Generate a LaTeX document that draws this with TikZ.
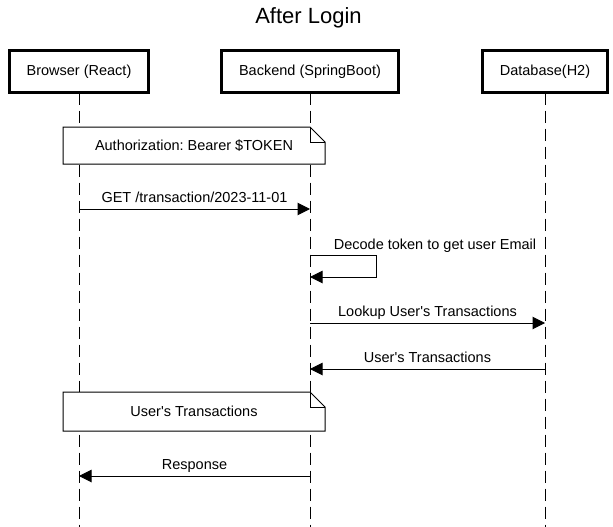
\documentclass[tikz,border=0pt]{standalone}
\usepackage{fontspec}
\setmainfont{Liberation Sans}
\usetikzlibrary{positioning, calc, arrows.meta}
\frenchspacing

\begin{document}
\begin{tikzpicture}[x=1pt, y=-1pt, line width=1pt]
% Block styles
\tikzstyle{actor}=[inner sep=0pt, outer sep=0pt, draw=black, line width=2.8pt, fill=white, align=center, minimum height=42pt, font=\fontsize{14.5}{17}\selectfont]
\tikzstyle{notebox}=[inner sep=0pt, outer sep=0pt, align=center, minimum width=262pt, font=\fontsize{14.5}{17}\selectfont]
\tikzstyle{note}=[draw=black, fill=white, line width=1pt]
\tikzstyle{life}=[dash pattern=on 12pt off 6pt, line width=1pt]
\tikzstyle{msg}=[-{Triangle[length=12.5pt, width=12.5pt]}, line width=1pt]
\tikzstyle{lbl}=[anchor=base, inner sep=0pt, font=\fontsize{14.5}{17}\selectfont]
\useasboundingbox (0,0) rectangle (613,527);
% Title
\node[anchor=base, inner sep=0pt, font=\fontsize{22}{26}\selectfont] (title) at (308.5,24) {After Login};
% Participants
\node[actor, minimum width=139pt] (browser) at (79,71.5) {Browser (React)};
\node[actor, minimum width=177pt] (backend) at (310,71.5) {Backend (SpringBoot)};
\node[actor, minimum width=125pt] (db) at (545,71.5) {Database(H2)};
% Lifelines
\coordinate (bottom) at (0,527);
\draw[life] (browser.south) -- (browser.south |- bottom);
\draw[life] (backend.south) -- (backend.south |- bottom);
\draw[life] (db.south) -- (db.south |- bottom);
% Notes
\node[notebox, minimum height=37pt] (auth) at (194,145.5) {};
\draw[note] (auth.north west) -- ([xshift=-15pt]auth.north east) -- ([yshift=-15pt]auth.north east) -- (auth.south east) -- (auth.south west) -- cycle;
\draw ([xshift=-15pt]auth.north east) -- ([xshift=-15pt, yshift=-15pt]auth.north east) -- ([yshift=-15pt]auth.north east);
\node[notebox] at (auth.center) {Authorization: Bearer \$TOKEN};
\node[notebox, minimum height=39pt] (trans) at (194,411.5) {};
\draw[note] (trans.north west) -- ([xshift=-15pt]trans.north east) -- ([yshift=-15pt]trans.north east) -- (trans.south east) -- (trans.south west) -- cycle;
\draw ([xshift=-15pt]trans.north east) -- ([xshift=-15pt, yshift=-15pt]trans.north east) -- ([yshift=-15pt]trans.north east);
\node[notebox] at (trans.center) {User\textquotesingle s Transactions};
% Messages
\coordinate (y1) at (0,209);
\coordinate (y2) at (0,255);
\coordinate (y3) at (0,277);
\coordinate (y4) at (0,323);
\coordinate (y5) at (0,369);
\coordinate (y6) at (0,476);
\draw[msg] (browser |- y1) -- (backend |- y1) node[lbl, midway, yshift=6.5pt] {GET /transaction/2023-11-01};
\draw[msg] (backend |- y2) -- ++(66,0) -- ++(0,22) -- (backend |- y3);
\node[lbl] (decode) at (435,249) {Decode token to get user Email};
\draw[msg] (backend |- y4) -- (db |- y4) node[lbl, midway, yshift=6.5pt] {Lookup User\textquotesingle s Transactions};
\draw[msg] (db |- y5) -- (backend |- y5) node[lbl, midway, yshift=6.5pt] {User\textquotesingle s Transactions};
\draw[msg] (backend |- y6) -- (browser |- y6) node[lbl, midway, yshift=6.5pt] {Response};
\end{tikzpicture}
\end{document}
